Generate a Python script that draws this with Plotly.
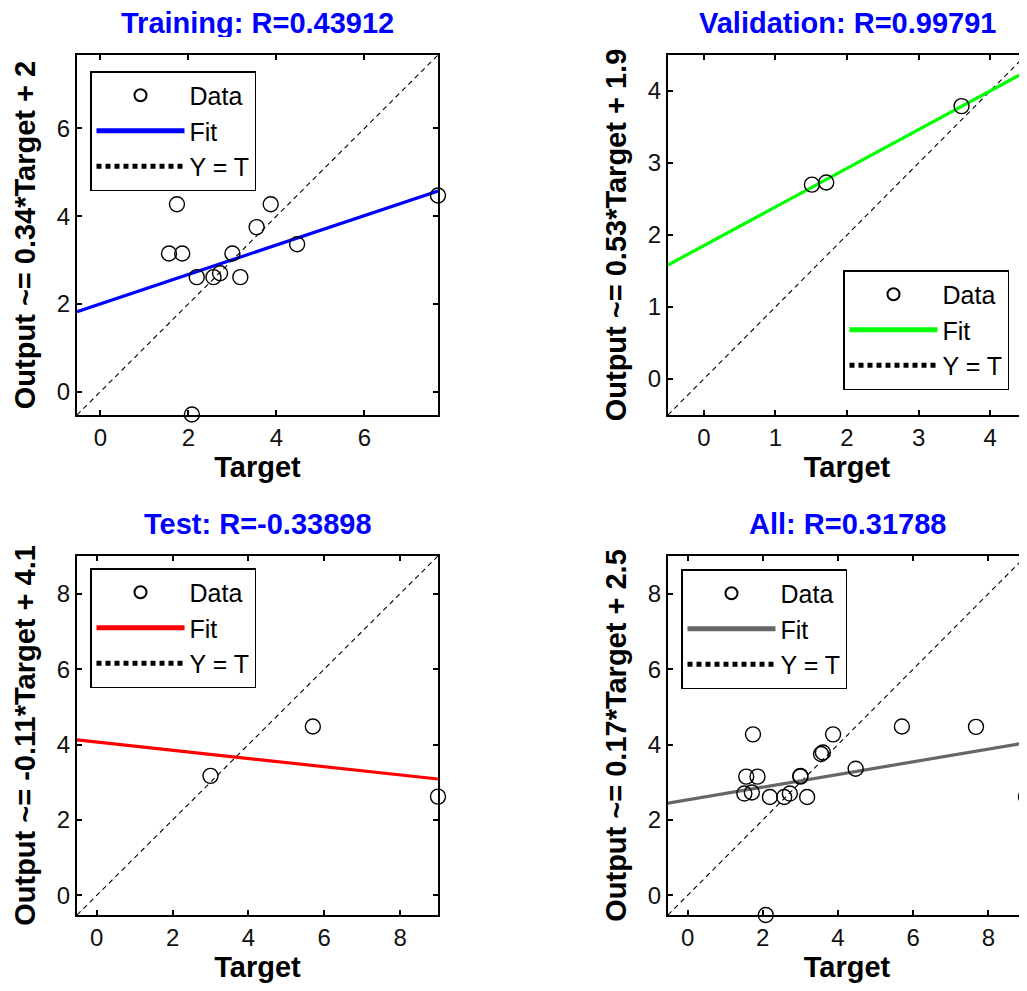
import numpy as np
import plotly.graph_objects as go

# ---------------- data ----------------
train_target = [1.74, 1.56, 1.86, 2.19, 2.57, 2.72, 3.00, 3.18, 3.55, 3.87, 4.47, 7.67, 2.08]
train_output = [4.27, 3.15, 3.15, 2.61, 2.61, 2.70, 3.15, 2.61, 3.75, 4.27, 3.36, 4.47, -0.52]
val_target = [1.51, 1.71, 3.60]
val_output = [2.70, 2.73, 3.79]
test_target = [3.00, 5.70, 9.00]
test_output = [3.17, 4.48, 2.62]
all_target = train_target + val_target + test_target
all_output = train_output + val_output + test_output

panel_names = ["Training", "Validation", "Test", "All"]
panel_r = ["0.43912", "0.99791", "-0.33898", "0.31788"]
panel_ylabels = ["Output ~= 0.34*Target + 2", "Output ~= 0.53*Target + 1.9",
                 "Output ~= -0.11*Target + 4.1", "Output ~= 0.17*Target + 2.5"]
panel_ranges = [[-0.53, 7.67], [-0.5, 4.5], [-0.52, 9.0], [-0.52, 9.0]]
panel_ticks = [[0, 2, 4, 6], [0, 1, 2, 3, 4], [0, 2, 4, 6, 8], [0, 2, 4, 6, 8]]
panel_colors = ["#0000ff", "#00ff00", "#ff0000", "#666666"]
panel_data = [(train_target, train_output), (val_target, val_output),
              (test_target, test_output), (all_target, all_output)]

# ---------------- layout geometry (page pixels) ----------------
OFF = 8                      # default body margin of the html page
W, H = 1027 - OFF, 991 - OFF
px_x = [(77, 438), (668, 1026), (77, 438), (668, 1026)]
px_y = [(55, 415), (55, 415), (556, 915), (556, 915)]
legend_px = [(90, 71), (843, 270), (90, 568), (681, 569)]


def fx(p):
    return (p - OFF) / W


def fy(p):
    return 1 - (p - OFF) / H


fig = go.Figure()
FONT = "Liberation Sans, Arial, sans-serif"

for i in range(4):
    t, o = panel_data[i]
    sfx = "" if i == 0 else str(i + 1)
    xa, ya = "x" + sfx, "y" + sfx
    leg = "legend" + sfx
    lo, hi = panel_ranges[i]
    line_x = np.array([lo, hi])
    slope, intercept = np.polyfit(np.array(t), np.array(o), 1)

    fig.add_trace(go.Scatter(x=line_x, y=line_x, mode="lines", name="Y = T",
                             line=dict(color="black", width=1.1, dash="5px,4px"),
                             xaxis=xa, yaxis=ya, legend=leg, legendrank=3,
                             legendgroup=f"yt{i}", hoverinfo="skip"))
    fig.add_trace(go.Scatter(x=line_x, y=slope * line_x + intercept, mode="lines", name="Fit",
                             line=dict(color=panel_colors[i], width=3.2),
                             xaxis=xa, yaxis=ya, legend=leg, legendrank=2,
                             legendgroup=f"fit{i}"))
    fig.add_trace(go.Scatter(x=t, y=o, mode="markers", name="Data",
                             marker=dict(symbol="circle-open", size=15, color="black",
                                         line=dict(width=1.4)),
                             cliponaxis=False,
                             xaxis=xa, yaxis=ya, legend=leg, legendrank=1,
                             legendgroup=f"data{i}"))

    x0, x1 = px_x[i]
    y0, y1 = px_y[i]
    axis_common = dict(range=panel_ranges[i], tickvals=panel_ticks[i], ticks="inside",
                       ticklen=5, tickwidth=1.5, tickcolor="black", showline=True,
                       linecolor="black", linewidth=2, mirror="ticks", showgrid=False,
                       zeroline=False, tickfont=dict(family=FONT, size=24, color="#111111"))
    fig.layout["xaxis" + sfx] = go.layout.XAxis(
        domain=[fx(x0), fx(x1)], anchor=ya,
        title=dict(text="<b>Target</b>", font=dict(family=FONT, size=29, color="black"), standoff=4),
        **axis_common)
    fig.layout["yaxis" + sfx] = go.layout.YAxis(
        domain=[fy(y1), fy(y0)], anchor=xa,
        title=dict(text="<b>" + panel_ylabels[i] + "</b>",
                   font=dict(family=FONT, size=29, color="black"), standoff=13),
        **axis_common)

    lx, ly = legend_px[i]
    fig.layout[leg] = go.layout.Legend(
        x=fx(lx), y=fy(ly), xanchor="left", yanchor="top",
        bgcolor="white", bordercolor="black", borderwidth=1.5,
        font=dict(family=FONT, size=25, color="black"),
        tracegroupgap=0, itemwidth=88, itemsizing="constant")

    fig.add_annotation(text=f"<b>{panel_names[i]}: R={panel_r[i]}</b>",
                       x=fx((x0 + x1) / 2), y=fy(y0 - 32), xref="paper", yref="paper",
                       xanchor="center", yanchor="middle", showarrow=False,
                       height=28, valign="middle",
                       font=dict(family=FONT, size=29, color="#0000ff"))

fig.update_layout(width=W, height=H, margin=dict(l=0, r=0, t=0, b=0),
                  paper_bgcolor="white", plot_bgcolor="white", showlegend=True)

fig.write_html("out.html")
